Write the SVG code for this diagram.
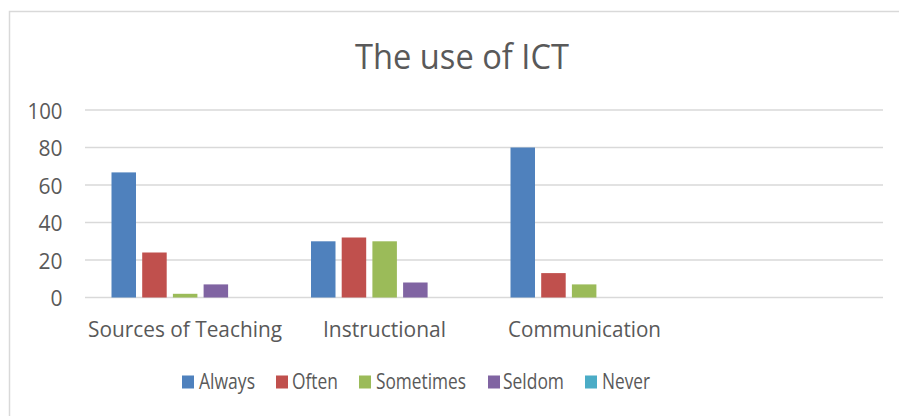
<svg xmlns="http://www.w3.org/2000/svg" width="899" height="416" viewBox="0 0 899 416">
<style>
text{font-family:"Open Sans","Liberation Sans",sans-serif;fill:#595959}
.ax{font-size:21px;text-anchor:end}
.cat{font-size:22px;text-anchor:middle}
.lg{font-size:22px}
.grid{stroke:#d9d9d9;stroke-width:1.5}
.b1{fill:#4f81bd}.b2{fill:#c0504d}.b3{fill:#9bbb59}.b4{fill:#8064a2}.b5{fill:#4bacc6}
</style>
<rect x="9.5" y="11.5" width="900" height="420" fill="#fff" stroke="#d9d9d9" stroke-width="1.5"/>
<text id="title" x="462" y="69" text-anchor="middle" style="font-size:35px" textLength="214" lengthAdjust="spacingAndGlyphs">The use of ICT</text>
<g id="axis">
<line class="grid" x1="85" y1="110" x2="883" y2="110"/>
<line class="grid" x1="85" y1="147.5" x2="883" y2="147.5"/>
<line class="grid" x1="85" y1="185" x2="883" y2="185"/>
<line class="grid" x1="85" y1="222.5" x2="883" y2="222.5"/>
<line class="grid" x1="85" y1="260" x2="883" y2="260"/>
<line class="grid" x1="85" y1="297.5" x2="883" y2="297.5"/>
<text class="ax" x="62.5" y="118.5" textLength="35" lengthAdjust="spacingAndGlyphs">100</text>
<text class="ax" x="62.5" y="156">80</text>
<text class="ax" x="62.5" y="193.5">60</text>
<text class="ax" x="62.5" y="231">40</text>
<text class="ax" x="62.5" y="268.5">20</text>
<text class="ax" x="62.5" y="306">0</text>
</g>
<g id="sources">
<rect class="b1" x="111.5" y="172.4" width="24.5" height="125.1"/>
<rect class="b2" x="142.2" y="252.5" width="24.5" height="45"/>
<rect class="b3" x="172.9" y="293.8" width="24.5" height="3.7"/>
<rect class="b4" x="203.6" y="284.4" width="24.5" height="13.1"/>
<text class="cat" x="185" y="336.5" textLength="194" lengthAdjust="spacingAndGlyphs">Sources of Teaching</text>
</g>
<g id="instructional">
<rect class="b1" x="311" y="241.3" width="24.5" height="56.2"/>
<rect class="b2" x="341.7" y="237.5" width="24.5" height="60"/>
<rect class="b3" x="372.4" y="241.3" width="24.5" height="56.2"/>
<rect class="b4" x="403.1" y="282.5" width="24.5" height="15"/>
<text class="cat" x="384.5" y="336.5" textLength="123" lengthAdjust="spacingAndGlyphs">Instructional</text>
</g>
<g id="communication">
<rect class="b1" x="510.5" y="147.5" width="24.5" height="150"/>
<rect class="b2" x="541.2" y="273.1" width="24.5" height="24.4"/>
<rect class="b3" x="571.9" y="284.4" width="24.5" height="13.1"/>
<text class="cat" x="584.5" y="336.5" textLength="153" lengthAdjust="spacingAndGlyphs">Communication</text>
</g>
<g id="legend">
<rect class="b1" x="182" y="375.5" width="12" height="13"/>
<text class="lg" x="199" y="389.3" textLength="56" lengthAdjust="spacingAndGlyphs">Always</text>
<rect class="b2" x="276" y="375.5" width="12" height="13"/>
<text class="lg" x="292" y="389.3" textLength="46" lengthAdjust="spacingAndGlyphs">Often</text>
<rect class="b3" x="359" y="375.5" width="12" height="13"/>
<text class="lg" x="376" y="389.3" textLength="90" lengthAdjust="spacingAndGlyphs">Sometimes</text>
<rect class="b4" x="488" y="375.5" width="12" height="13"/>
<text class="lg" x="503" y="389.3" textLength="61" lengthAdjust="spacingAndGlyphs">Seldom</text>
<rect class="b5" x="585" y="375.5" width="12" height="13"/>
<text class="lg" x="602" y="389.3" textLength="48" lengthAdjust="spacingAndGlyphs">Never</text>
</g>
</svg>
